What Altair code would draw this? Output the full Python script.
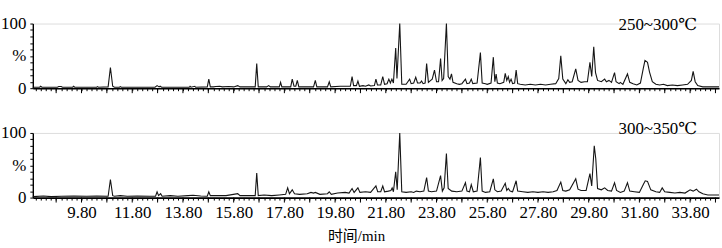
import altair as alt
import pandas as pd

# ---- data: (retention time in min, relative abundance in %) ----
top_trace = [
    (7.88, 1.5), (8.15, 1.5), (8.19, 3), (8.24, 1.5), (8.85, 1.5), (8.9, 2.5), (9.0, 2.5), (9.05, 1.5),
    (9.45, 1.5), (9.49, 3), (9.53, 1.5), (10.40, 1.5), (10.43, 2.5), (10.47, 1.5),
    (10.85, 2), (10.94, 32), (11.03, 3), (11.10, 1.5), (11.30, 1.5), (11.33, 2.5), (11.37, 1.5),
    (12.70, 1.5), (12.78, 4), (12.86, 2), (12.90, 3), (12.96, 1.5),
    (14.05, 1.5), (14.08, 3), (14.12, 1.5), (14.27, 3), (14.30, 1.5),
    (14.76, 2), (14.82, 14), (14.88, 2), (15.0, 2), (15.1, 2.5), (15.25, 3), (15.35, 2), (15.6, 2.5),
    (15.8, 2), (15.96, 4), (16.05, 2), (16.65, 2), (16.71, 38), (16.77, 2),
    (17.1, 2), (17.18, 4), (17.25, 2), (17.6, 2), (17.65, 9), (17.7, 2),
    (18.05, 2), (18.11, 14), (18.18, 3), (18.25, 3), (18.31, 12), (18.37, 2),
    (18.95, 2), (19.02, 12), (19.08, 2), (19.5, 2), (19.57, 10), (19.63, 2),
    (20.0, 3), (20.4, 3), (20.47, 18), (20.53, 4), (20.64, 4), (20.70, 11), (20.76, 3),
    (20.9, 4), (21.0, 3), (21.13, 5), (21.2, 3.5), (21.35, 4), (21.41, 14), (21.47, 5), (21.6, 5),
    (21.68, 18), (21.75, 6), (21.85, 7), (21.92, 14), (21.98, 8), (22.04, 14), (22.1, 8),
    (22.19, 62), (22.24, 15), (22.35, 100), (22.43, 6), (22.6, 6), (22.74, 14), (22.8, 7), (22.9, 8),
    (22.98, 17), (23.05, 8), (23.15, 8), (23.21, 11), (23.27, 7), (23.35, 8), (23.41, 38), (23.48, 9),
    (23.57, 12), (23.63, 14), (23.72, 28), (23.8, 10), (23.88, 10), (23.96, 46), (24.02, 12), (24.08, 15),
    (24.19, 100), (24.26, 18), (24.33, 14), (24.39, 22), (24.45, 9), (24.6, 7), (24.7, 6), (24.8, 7),
    (24.94, 14), (25.0, 7), (25.1, 8), (25.17, 14), (25.23, 7), (25.4, 8), (25.53, 55), (25.6, 8),
    (25.73, 7), (25.8, 6), (25.95, 8), (26.04, 48), (26.1, 10), (26.15, 22), (26.2, 8), (26.3, 7),
    (26.45, 9), (26.51, 23), (26.57, 12), (26.63, 18), (26.68, 9), (26.74, 14), (26.8, 7), (26.88, 8),
    (26.94, 28), (27.0, 7), (27.1, 6), (27.3, 5), (27.5, 6), (27.7, 5), (27.9, 6), (28.1, 5), (28.3, 6),
    (28.5, 7), (28.62, 15), (28.70, 50), (28.78, 14), (28.9, 7), (28.98, 13), (29.05, 9), (29.15, 10),
    (29.29, 30), (29.38, 12), (29.5, 9), (29.64, 10), (29.75, 10), (29.85, 40), (29.92, 18), (30.0, 64),
    (30.07, 24), (30.15, 12), (30.3, 10), (30.43, 14), (30.5, 10), (30.6, 12), (30.7, 9), (30.82, 24),
    (30.88, 10), (31.0, 7), (31.05, 9), (31.15, 6), (31.33, 22), (31.42, 9), (31.55, 7), (31.7, 5),
    (31.84, 8), (31.95, 30), (32.02, 43), (32.12, 40), (32.2, 25), (32.31, 10), (32.45, 6), (32.6, 5),
    (32.75, 6), (32.9, 4), (33.1, 5), (33.3, 4), (33.5, 5), (33.7, 6), (33.85, 12), (33.92, 26),
    (34.0, 10), (34.1, 4), (34.3, 2), (34.94, 2),
]

bottom_trace = [
    (7.88, 1.5), (8.3, 2.5), (8.6, 1.5), (9.0, 2), (9.5, 2.5), (10.0, 2), (10.4, 2.5),
    (10.85, 2), (10.94, 28), (11.03, 3), (11.1, 2), (11.33, 3), (11.6, 2), (12.0, 2.5), (12.5, 2),
    (12.72, 2), (12.78, 9), (12.84, 3), (12.92, 6), (12.98, 2), (13.3, 3), (13.6, 2), (14.0, 3),
    (14.2, 3.5), (14.5, 2.5), (14.76, 2), (14.82, 9), (14.88, 3), (15.2, 3), (15.5, 3), (15.96, 6),
    (16.05, 3), (16.65, 3), (16.71, 38), (16.77, 3), (17.0, 4), (17.3, 3), (17.6, 4), (17.85, 5),
    (17.93, 15), (18.0, 6), (18.11, 12), (18.2, 6), (18.4, 5), (18.7, 6), (18.85, 8), (18.95, 7),
    (19.02, 8), (19.2, 5), (19.5, 6), (19.57, 9), (19.65, 5), (19.9, 7), (20.2, 8), (20.35, 7),
    (20.47, 14), (20.55, 8), (20.70, 15), (20.78, 8), (21.0, 9), (21.2, 8), (21.41, 18), (21.48, 9),
    (21.6, 9), (21.68, 18), (21.75, 9), (21.9, 10), (22.0, 11), (22.05, 15), (22.1, 9), (22.19, 40),
    (22.25, 12), (22.35, 100), (22.43, 9), (22.6, 8), (22.8, 9), (22.9, 8), (23.0, 10), (23.15, 9),
    (23.3, 10), (23.41, 31), (23.48, 10), (23.6, 9), (23.8, 10), (23.96, 34), (24.03, 10), (24.1, 15),
    (24.19, 68), (24.26, 14), (24.4, 10), (24.6, 9), (24.8, 10), (24.94, 23), (25.0, 10), (25.1, 9),
    (25.17, 20), (25.25, 9), (25.4, 10), (25.53, 62), (25.6, 10), (25.73, 8), (25.9, 9), (26.04, 29),
    (26.1, 12), (26.2, 9), (26.35, 10), (26.51, 22), (26.57, 11), (26.63, 14), (26.7, 10), (26.8, 9),
    (26.94, 26), (27.0, 10), (27.2, 9), (27.4, 8), (27.6, 9), (27.8, 8), (28.0, 9), (28.2, 8), (28.4, 9),
    (28.55, 11), (28.70, 24), (28.78, 11), (28.9, 10), (29.05, 12), (29.29, 29), (29.38, 13), (29.5, 11),
    (29.7, 11), (29.85, 37), (29.92, 18), (30.02, 80), (30.08, 60), (30.15, 14), (30.3, 12), (30.43, 15),
    (30.55, 11), (30.7, 10), (30.82, 23), (30.9, 11), (31.05, 8), (31.2, 10), (31.33, 23), (31.42, 10),
    (31.6, 9), (31.8, 8), (31.95, 20), (32.03, 26), (32.12, 25), (32.25, 12), (32.45, 9), (32.6, 8),
    (32.70, 15), (32.8, 9), (33.0, 8), (33.2, 7), (33.4, 8), (33.6, 7), (33.8, 12), (33.92, 10),
    (34.05, 13), (34.15, 9), (34.3, 6), (34.5, 4), (34.94, 4),
]

panel_labels = ["250~300℃", "300~350℃"]
label_time = [34.08, 34.08]
label_pct = [97.7, 105.4]

x_domain = [7.88, 34.94]
minor_ticks = [round(8.0 + 0.2 * i, 1) for i in range(135)]   # 8.0 ... 34.8
major_ticks = [round(8.8 + 1.0 * i, 1) for i in range(27)]    # 8.8 ... 34.8
x_tick_labels = ["9.80", "11.80", "13.80", "15.80", "17.80", "19.80", "21.80",
                 "23.80", "25.80", "27.80", "29.80", "31.80", "33.80"]
y_ticks = [0, 10, 20, 30, 40, 50, 60, 70, 80, 90, 100]
x_title = "时间/min"

SERIF = "Liberation Serif, DejaVu Serif, serif"
TITLE_FONT = "Liberation Serif, DejaVu Serif, Noto Sans CJK SC, serif"
W, H = 690, 65

label_test = "indexof([" + ",".join(x_tick_labels) + "], datum.value) >= 0"


def panel(trace, idx, show_labels):
    df = pd.DataFrame(trace, columns=["t", "pct"])
    xscale = alt.Scale(domain=x_domain, nice=False, zero=False)
    yscale = alt.Scale(domain=[0, 100], nice=False)
    axis_kw = dict(
        values=minor_ticks, tickSize=2.5,
        tickColor="black", tickWidth=1, domainColor="black", domainWidth=1.6,
        grid=False, labelOverlap=False, labelFlush=False,
    )
    if show_labels:
        xaxis = alt.Axis(
            labels=True,
            labelExpr="(" + label_test + ") ? format(datum.value, '.2f') : ''",
            labelFont=SERIF, labelFontSize=17, labelColor="black", labelPadding=5,
            title=x_title, titleFont=TITLE_FONT, titleFontSize=15, titleFontWeight="normal",
            titleColor="black", titleX=325, titleY=43, titleBaseline="alphabetic",
            **axis_kw,
        )
        xenc = alt.X("t:Q", scale=xscale, axis=xaxis)
    else:
        xaxis = alt.Axis(labels=False, **axis_kw)
        xenc = alt.X("t:Q", scale=xscale, axis=xaxis, title=None)

    yaxis = alt.Axis(
        values=y_ticks,
        labelExpr="datum.value == 50 ? '%' : (datum.value == 0 || datum.value == 100 ? datum.label : '')",
        tickSize=3, tickColor="black", domainColor="black", domainWidth=1.4,
        labelFont=SERIF, labelFontSize=17, labelColor="black", labelPadding=4,
        labelOverlap=False, grid=False,
    )
    yenc = alt.Y("pct:Q", scale=yscale, axis=yaxis, title=None)

    line = alt.Chart(df).mark_line(color="#151515", strokeWidth=1.1, interpolate="linear").encode(
        x=xenc, y=yenc,
    )
    majors = alt.Chart(pd.DataFrame({"t": major_ticks})).mark_rule(
        color="black", strokeWidth=1
    ).encode(
        x=xenc,
        y=alt.value(H),
        y2=alt.value(H + 5),
    )
    lab = pd.DataFrame({"t": [label_time[idx]], "pct": [label_pct[idx]], "label": [panel_labels[idx]]})
    text = alt.Chart(lab).mark_text(
        align="right", baseline="middle", font=SERIF, fontSize=17, color="black"
    ).encode(
        x=xenc, y=yenc, text="label:N",
    )
    return alt.layer(line, majors, text).properties(width=W, height=H)


top = panel(top_trace, 0, False)
bottom = panel(bottom_trace, 1, True)

chart = alt.vconcat(top, bottom, spacing=45, bounds="flush").properties(
    padding={"left": 0, "top": 13, "right": 0, "bottom": 0}
).configure_view(strokeWidth=0).configure(background="white")

chart.save("out.html", embed_options={"renderer": "svg", "actions": False})
